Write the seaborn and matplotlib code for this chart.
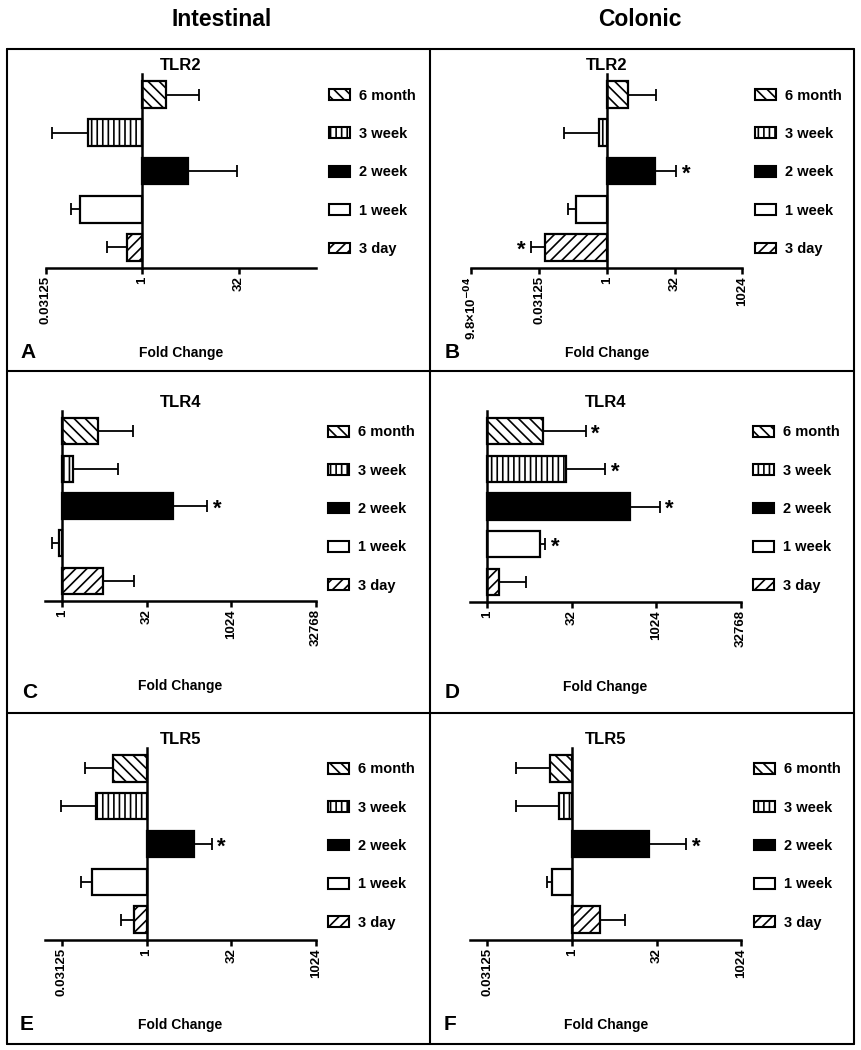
import numpy as np
import pandas as pd
import matplotlib
matplotlib.use("Agg")
from matplotlib import pyplot as plt
import matplotlib.patches as mpatches
from matplotlib.lines import Line2D
import seaborn as sns

# time points, top to bottom as drawn
times = ["6 month", "3 week", "2 week", "1 week", "3 day"]
hatches = ["\\\\\\", "|||", "", "", "///"]
fills = ["white", "white", "black", "white", "white"]

# log2 fold change (bar ends) and SEM (log2 units)
tlr2_int = [1.21, -2.80, 2.35, -3.23, -0.81]
tlr2_int_err = [1.74, 1.88, 2.54, 0.43, 1.03]
tlr2_col = [1.52, -0.57, 3.53, -2.28, -4.61]
tlr2_col_err = [2.08, 2.57, 1.59, 0.61, 0.98]
tlr4_int = [2.12, 0.65, 6.57, -0.20, 2.41]
tlr4_int_err = [2.10, 2.68, 2.02, 0.39, 1.87]
tlr4_col = [3.31, 4.64, 8.44, 3.16, 0.73]
tlr4_col_err = [2.51, 2.36, 1.78, 0.29, 1.58]
tlr5_int = [-1.98, -2.96, 2.80, -3.22, -0.75]
tlr5_int_err = [1.63, 2.11, 1.05, 0.63, 0.79]
tlr5_col = [-1.30, -0.79, 4.53, -1.21, 1.66]
tlr5_col_err = [2.01, 2.52, 2.22, 0.29, 1.49]

# significance stars
stars_a = [0, 0, 0, 0, 0]
stars_b = [0, 0, 1, 0, 1]
stars_c = [0, 0, 1, 0, 0]
stars_d = [1, 1, 1, 1, 0]
stars_e = [0, 0, 1, 0, 0]
stars_f = [0, 0, 1, 0, 0]

ticks_a = [-5, 0, 5]
ticks_b = [-10, -5, 0, 5, 10]
ticks_c = [0, 5, 10, 15]
ticks_e = [-5, 0, 5, 10]

sns.set_style("ticks")
plt.rcParams['font.family'] = ['Liberation Sans', 'DejaVu Sans']
plt.rcParams['font.weight'] = 'bold'
plt.rcParams['hatch.linewidth'] = 1.2
plt.rcParams['text.color'] = 'black'
plt.rcParams['axes.edgecolor'] = 'black'
plt.rcParams['xtick.color'] = 'black'
plt.rcParams['axes.labelcolor'] = 'black'

W, H = 862, 1050
fig = plt.figure(figsize=(W / 100, H / 100), dpi=100)


def fx(x):
    return x / W


def fy(y):
    return 1 - y / H


def ticklab(t):
    if t == -10:
        return "9.8\u00d710$^{\\mathbf{-04}}$"
    v = 2.0 ** t
    if v >= 1:
        return str(int(v))
    return ("%.5f" % v).rstrip("0")


panels = [
    ("A", "TLR2", tlr2_int, tlr2_int_err, stars_a, ticks_a, (-5, 9), 45.5, 74, 194),
    ("B", "TLR2", tlr2_col, tlr2_col_err, stars_b, ticks_b, (-10, 10), 471.5, 74, 194),
    ("C", "TLR4", tlr4_int, tlr4_int_err, stars_c, ticks_c, (-1, 15), 45, 411, 190),
    ("D", "TLR4", tlr4_col, tlr4_col_err, stars_d, ticks_c, (-1, 15), 470, 411, 191),
    ("E", "TLR5", tlr5_int, tlr5_int_err, stars_e, ticks_e, (-6, 10), 45, 748, 192),
    ("F", "TLR5", tlr5_col, tlr5_col_err, stars_f, ticks_e, (-6, 10), 470.5, 748, 192),
]
letter_pos = {"A": (28, 352), "B": (452, 352), "C": (30, 692),
              "D": (452, 693), "E": (27, 1024), "F": (450, 1024)}

for letter, title, vals, errs, stars, ticks, xlim, left, top, hgt in panels:
    width = 271
    ax = fig.add_axes([fx(left), fy(top + hgt), width / W, hgt / H])
    df = pd.DataFrame({"time": times, "fold": vals})
    sns.barplot(data=df, x="fold", y="time", order=times, orient="h",
                color="white", saturation=1, edgecolor="black",
                linewidth=1.6, width=0.7, errorbar=None, ax=ax)
    for p, h, f in zip(ax.patches, hatches, fills):
        p.set_hatch(h)
        p.set_facecolor(f)

    pos = np.arange(len(times))
    vals_a = np.array(vals)
    errs_a = np.array(errs)
    lower = np.where(vals_a < 0, errs_a, 0)
    upper = np.where(vals_a >= 0, errs_a, 0)
    ax.errorbar(vals_a, pos, xerr=[lower, upper], fmt="none", ecolor="black",
                elinewidth=1.3, capsize=4.5, capthick=1.3, zorder=1)

    for i, s in enumerate(stars):
        if s:
            end = vals_a[i] + (errs_a[i] if vals_a[i] >= 0 else -errs_a[i])
            dx = 7 if vals_a[i] >= 0 else -7
            ax.annotate("*", xy=(end, pos[i]), xytext=(dx, -6),
                        textcoords="offset points", ha="center",
                        va="baseline", fontsize=16, fontweight="bold")

    ax.set_xlim(*xlim)
    ax.set_ylim(4.54, -0.54)
    ax.set_xticks(ticks)
    ax.set_xticklabels([ticklab(t) for t in ticks], rotation=90,
                       fontsize=9.5, fontweight="bold")
    ax.set_yticks([])
    ax.set_xlabel("")
    ax.set_ylabel("")
    ax.spines["top"].set_visible(False)
    ax.spines["right"].set_visible(False)
    ax.spines["left"].set_position(("data", 0))
    ax.spines["left"].set_linewidth(1.8)
    ax.spines["bottom"].set_linewidth(1.8)
    ax.tick_params(axis="x", length=4, width=1.8, pad=2, color="black")
    ax.set_title(title, fontsize=12, fontweight="bold", pad=3)

    handles = [mpatches.Patch(facecolor=f, edgecolor="black", hatch=h,
                              linewidth=1.5)
               for f, h in zip(fills, hatches)]
    ax.legend(handles, times, loc="upper left", bbox_to_anchor=(1.045, 0.925),
              frameon=False, handlelength=1.45,
              handleheight=0.75, handletextpad=0.6, labelspacing=1.67,
              borderaxespad=0, borderpad=0,
              prop={"weight": "bold", "size": 10.5})

    fig.text(fx(left + width / 2), fy(top + hgt + 85), "Fold Change",
             ha="center", va="center", fontsize=10, fontweight="bold")
    lx, ly = letter_pos[letter]
    fig.text(fx(lx), fy(ly), letter, ha="center", va="center",
             fontsize=15, fontweight="bold")

# column headers
fig.text(fx(222), fy(19), "Intestinal", ha="center", va="center",
         fontsize=16.5, fontweight="bold")
fig.text(fx(640), fy(19), "Colonic", ha="center", va="center",
         fontsize=16.5, fontweight="bold")

# panel frame
frame = [((7, 49), (854, 49)), ((7, 1044), (854, 1044)),
         ((7, 49), (7, 1044)), ((854, 49), (854, 1044)),
         ((430, 49), (430, 1044)), ((7, 371), (854, 371)),
         ((7, 713), (854, 713))]
for (x0, y0), (x1, y1) in frame:
    fig.add_artist(Line2D([fx(x0), fx(x1)], [fy(y0), fy(y1)],
                          transform=fig.transFigure, color="black",
                          linewidth=1.5))

plt.savefig("out.png", dpi=100)
